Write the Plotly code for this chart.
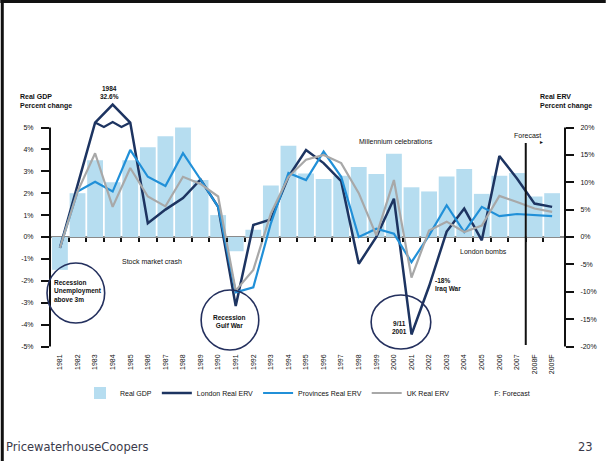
import plotly.graph_objects as go

# ---------------- data ----------------
years = list(range(1981, 2010))
year_labels = [str(y) for y in range(1981, 2008)] + ["2008F", "2009F"]

gdp = [-1.5, 2.0, 3.5, 2.5, 3.5, 4.1, 4.6, 5.0, 2.6, 1.0,
       -0.65, 0.33, 2.35, 4.17, 2.9, 2.65, 2.8, 3.2, 2.88, 3.8,
       2.27, 2.08, 2.76, 3.1, 1.97, 2.8, 2.92, 1.85, 2.0]

london = [-2.0, 9.5, 20.9, 24.2, 20.9, 2.5, 5.0, 7.1, 10.5, 5.5,
          -12.6, 2.2, 3.2, 11.0, 15.9, 13.5, 10.2, -4.9, 0.0, 7.0,
          -17.8, -9.0, 1.0, 5.2, -0.6, 14.8, 10.7, 6.1, 5.5]

provinces = [-2.0, 8.3, 10.1, 8.3, 15.9, 11.0, 9.3, 15.3, 10.5, 5.5,
             -10.1, -9.2, 2.5, 11.7, 10.4, 15.6, 11.0, 0.0, 1.5, 0.6,
             -4.6, 0.3, 5.8, 0.9, 5.5, 3.8, 4.2, 4.0, 3.8]

uk = [-2.0, 8.3, 15.3, 5.5, 12.6, 7.4, 5.6, 11.0, 9.7, 7.4,
      -9.8, -6.0, 4.3, 11.0, 14.1, 15.0, 13.5, 8.0, 0.3, 10.4,
      -7.4, 1.2, 2.8, 0.9, 2.1, 7.5, 6.4, 5.2, 4.6]

# scale-break cap drawn across the 1983-85 London peak
london_cap_x = [1983, 1983.5, 1984, 1984.5, 1985]
london_cap = [20.9, 20.1, 21.0, 20.1, 20.9]

gdp_ticks = list(range(-5, 6))
gdp_tick_text = [f"{v}%" for v in gdp_ticks]
rent_ticks = list(range(-20, 21, 5))
rent_tick_text = [f"{v}%" for v in rent_ticks]

# ---------------- layout helpers ----------------
W, H = 609, 461
PL, PR, PT, PB = 50, 568, 100, 350          # plot area in pixels
ZERO_PX, PX_PER_PCT = 237.0, 21.9
y_top = (ZERO_PX - PT) / PX_PER_PCT
y_bot = (ZERO_PX - PB) / PX_PER_PCT
STEP = 17.68
x_lo = 1981 - (60 - PL) / STEP
x_hi = 1981 + (PR - 60) / STEP


def px(x):
    return (x - PL) / (PR - PL)


def py(y):
    return (PB - y) / (PB - PT)


FONT = "Liberation Sans, Arial, sans-serif"
NAVY = "#1d3461"
BLUE = "#2190d8"
GREY = "#a8a8a8"
BAR = "#b6ddf0"

fig = go.Figure()

fig.add_trace(go.Bar(x=years, y=gdp, name="Real GDP", marker_color=BAR,
                     marker_line_width=0, width=0.9, yaxis="y"))
fig.add_trace(go.Scatter(x=years, y=london, name="London Real ERV", mode="lines",
                         line=dict(color=NAVY, width=2.5), yaxis="y2"))
fig.add_trace(go.Scatter(x=london_cap_x, y=london_cap, mode="lines", showlegend=False,
                         line=dict(color=NAVY, width=2.2), yaxis="y2", hoverinfo="skip"))
fig.add_trace(go.Scatter(x=years, y=provinces, name="Provinces Real ERV", mode="lines",
                         line=dict(color=BLUE, width=2.2), yaxis="y2"))
fig.add_trace(go.Scatter(x=years, y=uk, name="UK Real ERV", mode="lines",
                         line=dict(color=GREY, width=2.2), yaxis="y2"))
fig.add_trace(go.Scatter(x=[None], y=[None], name="F: Forecast", mode="lines",
                         line=dict(color="rgba(0,0,0,0)", width=1), yaxis="y2"))
# carrier for the zero-line tick axis
fig.add_trace(go.Scatter(x=[years[0]], y=[0], mode="markers", marker=dict(opacity=0),
                         showlegend=False, xaxis="x2", yaxis="y", hoverinfo="skip"))

tick_font = dict(family=FONT, size=7, color="#111")

fig.update_layout(
    width=W, height=H,
    margin=dict(l=PL, r=W - PR, t=PT, b=H - PB),
    paper_bgcolor="white", plot_bgcolor="white",
    font=dict(family=FONT, size=7, color="#111"),
    bargap=0.1,
    showlegend=True,
    legend=dict(orientation="h", x=0.5, xanchor="center", y=py(393), yanchor="middle",
                font=dict(family=FONT, size=7, color="#111"), itemwidth=30,
                bgcolor="rgba(0,0,0,0)"),
    xaxis=dict(range=[x_lo, x_hi], tickmode="array", tickvals=years, ticktext=year_labels,
               tickangle=-90, tickfont=tick_font, showgrid=False, zeroline=False,
               showline=False, ticks="", ticklabelstandoff=2),
    xaxis2=dict(matches="x", overlaying="x", anchor="free", position=py(ZERO_PX),
                side="bottom", tickmode="array", tickvals=[y + 0.5 for y in years[:-1]],
                ticks="outside", ticklen=4, tickwidth=1.5, tickcolor="#111",
                showticklabels=False, showgrid=False, zeroline=False, showline=False),
    yaxis=dict(range=[y_bot, y_top], tickmode="array", tickvals=gdp_ticks,
               ticktext=gdp_tick_text, tickfont=tick_font, ticks="outside", ticklen=8,
               tickwidth=2, tickcolor="#111", showgrid=False, zeroline=True,
               zerolinecolor="#8a8a8a", zerolinewidth=2, showline=False,
               ticklabelstandoff=6),
    yaxis2=dict(range=[y_bot * 4, y_top * 4], overlaying="y", side="right",
                tickmode="array", tickvals=rent_ticks, ticktext=rent_tick_text,
                tickfont=tick_font, ticks="outside", ticklen=8, tickwidth=2,
                tickcolor="#111", showgrid=False, zeroline=False, showline=False,
                ticklabelstandoff=5),
)

shapes = [
    # axis brackets
    dict(type="line", xref="paper", yref="y", x0=0, x1=0, y0=-5, y1=5,
         line=dict(color="#111", width=2)),
    dict(type="line", xref="paper", yref="y2", x0=1, x1=1, y0=-20, y1=20,
         line=dict(color="#111", width=2)),
    # forecast divider
    dict(type="line", xref="x", yref="paper", x0=2007.5, x1=2007.5, y0=py(345), y1=py(143),
         line=dict(color="#111", width=2)),
    # slide frame
    dict(type="line", xref="paper", yref="paper", x0=px(2), x1=px(2), y0=py(0), y1=py(H),
         line=dict(color="#111", width=3)),
    dict(type="line", xref="paper", yref="paper", x0=px(0), x1=px(W), y0=py(1.5), y1=py(1.5),
         line=dict(color="#111", width=3)),
]
for cx, cy, rx, ry in [(76, 293, 29, 30), (231, 320, 29, 30), (403, 322, 30, 27)]:
    shapes.append(dict(type="circle", xref="paper", yref="paper",
                       x0=px(cx - rx), x1=px(cx + rx), y0=py(cy + ry), y1=py(cy - ry),
                       line=dict(color="#24305e", width=1.6)))
fig.update_layout(shapes=shapes)


def note(text, x, y, xanchor="center", size=7, color="#111", align="center", family=FONT):
    fig.add_annotation(text=text, xref="paper", yref="paper", x=px(x), y=py(y),
                       xanchor=xanchor, yanchor="middle", showarrow=False, align=align,
                       font=dict(family=family, size=size, color=color))


note("<b>Real GDP<br>Percent change</b>", 18, 101, xanchor="left", align="left")
note("<b>Real ERV<br>Percent change</b>", 541, 101, xanchor="left", align="left")
note("<b>1984<br>32.6%</b>", 110, 92, size=6.5)
note("Stock market crash", 153, 261)
note("<b>Recession<br>Unemployment<br>above 3m</b>", 52, 291, xanchor="left", align="left", size=6.5)
note("<b>Recession<br>Gulf War</b>", 231, 321, size=6.5)
note("Millennium celebrations", 398, 141)
note("<b>9/11<br>2001</b>", 402, 327, size=6.5)
note("<b>-18%<br>Iraq War</b>", 435, 285, xanchor="left", align="left", size=6.5)
note("London bombs", 486, 251)
note("Forecast", 530, 135)
note("►", 544, 142, size=5)
note("PricewaterhouseCoopers", 4, 447, xanchor="left", size=11.5, color="#3a3a4a",
     align="left", family="DejaVu Sans, Verdana, sans-serif")
note("23", 598, 447, xanchor="right", size=11.5, color="#3a3a4a",
     family="DejaVu Sans, Verdana, sans-serif")

fig.write_html("out.html", config={"displayModeBar": False},
               post_script="document.body.style.margin='0';")
